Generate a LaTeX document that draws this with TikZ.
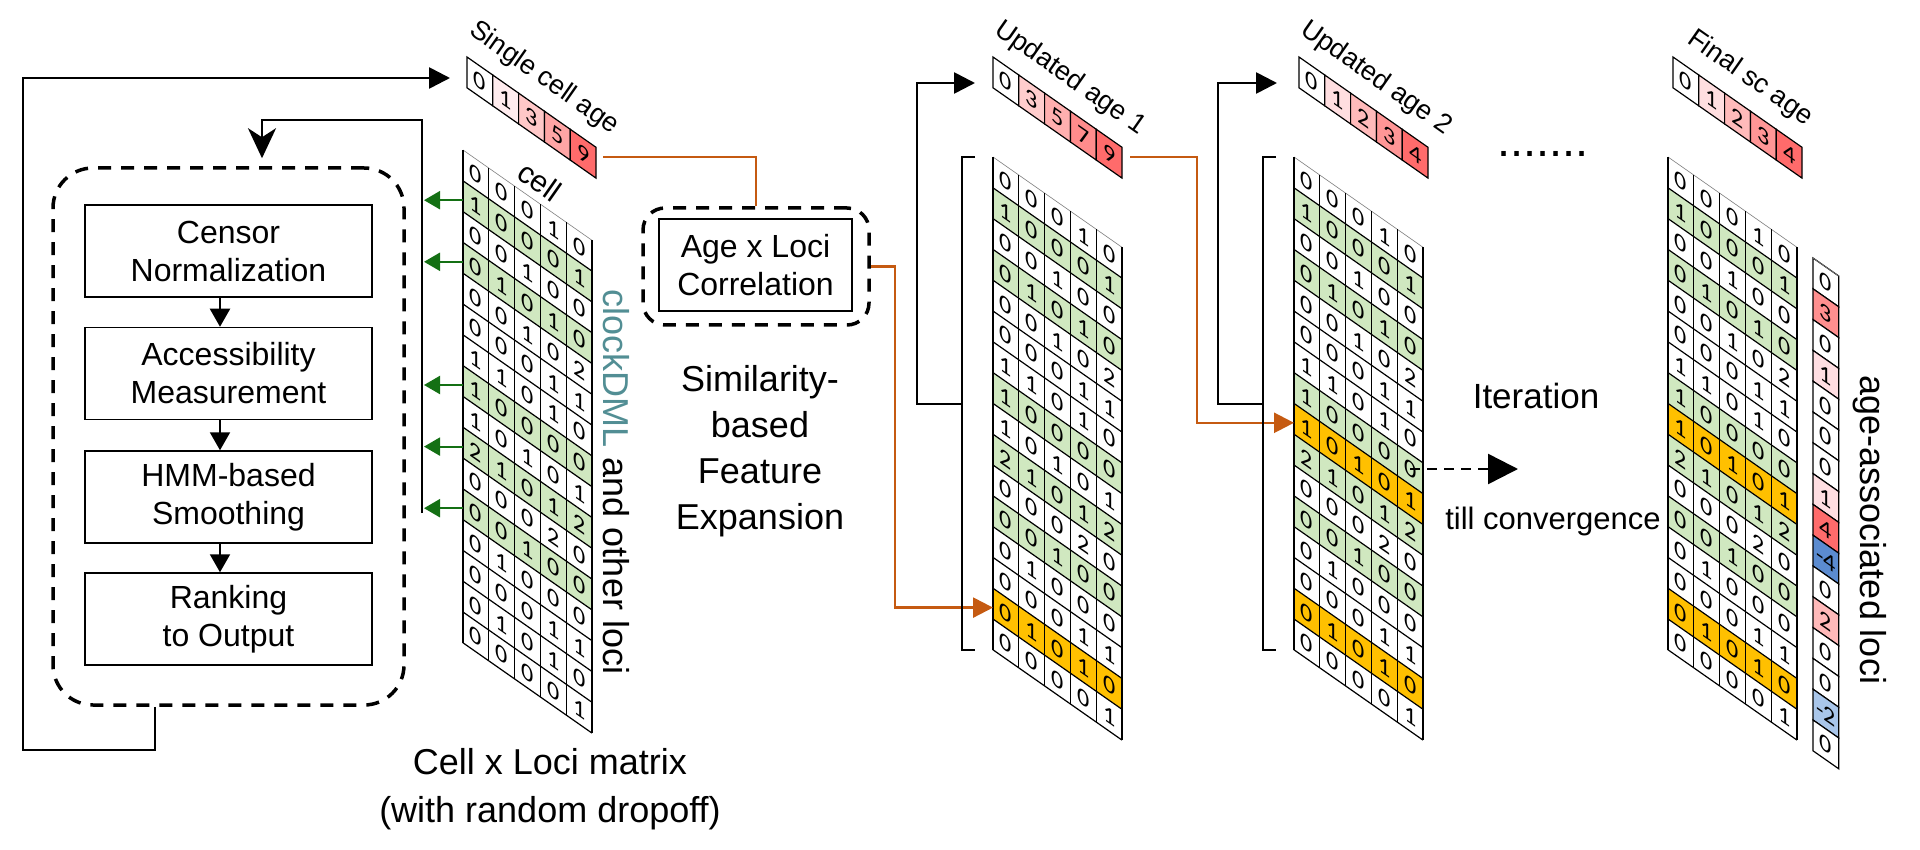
\documentclass[tikz,border=0pt]{standalone}
\usepackage{fontspec}
\setmainfont{Liberation Sans}
\newfontfamily\carlito{Carlito}
\usetikzlibrary{arrows.meta}
\definecolor{greenfill}{RGB}{208,232,192}
\definecolor{yellowfill}{RGB}{255,192,0}
\definecolor{orangeln}{RGB}{197,90,17}
\definecolor{darkgreen}{RGB}{20,112,20}
\definecolor{tealtext}{RGB}{82,142,148}
\definecolor{sA1}{RGB}{255,236,238}
\definecolor{sA3}{RGB}{255,200,200}
\definecolor{sA5}{RGB}{255,165,165}
\definecolor{sA9}{RGB}{255,107,107}
\definecolor{uA3}{RGB}{255,205,205}
\definecolor{uA5}{RGB}{255,175,175}
\definecolor{uA7}{RGB}{255,140,140}
\definecolor{uB1}{RGB}{255,222,224}
\definecolor{uB2}{RGB}{255,186,186}
\definecolor{uB3}{RGB}{255,150,150}
\definecolor{uB4}{RGB}{255,107,107}
\definecolor{cR3}{RGB}{255,143,143}
\definecolor{cR1}{RGB}{255,222,226}
\definecolor{cR4}{RGB}{255,107,107}
\definecolor{cB4}{RGB}{91,139,208}
\definecolor{cR2}{RGB}{255,185,185}
\definecolor{cB2}{RGB}{169,198,234}
\def\cw{25.8}
\def\rh{30.8}
\def\matdata{{0,0,0,1,0},{1,0,0,0,1},{0,0,1,0,0},{0,1,0,1,0},{0,0,1,0,2},{0,0,0,1,1},{1,1,0,1,0},{1,0,0,0,0},{1,0,1,0,1},{2,1,0,1,2},{0,0,0,2,0},{0,0,1,0,0},{0,1,0,0,0},{0,0,0,1,1},{0,1,0,1,0},{0,0,0,0,1}}
\tikzset{
  gridln/.style={line width=1.2pt, draw=black},
  thingrid/.style={line width=0.6pt, draw=gray},
  digit/.style={transform shape, inner sep=0pt, font=\carlito\fontsize{24}{24}\selectfont},
  procbox/.style={draw, line width=1.5pt, minimum width=287pt, minimum height=92pt, align=center, inner sep=0pt, font=\fontsize{32}{38}\selectfont},
  groupbox/.style={draw, line width=3.5pt, dash pattern=on 13pt off 10pt, rounded corners=40pt, inner sep=0pt},
  flow/.style={line width=2pt, -{Triangle[length=18pt,width=20pt]}},
  loopline/.style={line width=2.7pt},
  bigtip/.style={-{Triangle[length=21pt,width=21pt]}},
  greenarr/.style={draw=darkgreen, line width=2.2pt, -{Triangle[length=16pt,width=18pt]}},
  orangeline/.style={draw=orangeln, line width=2.5pt},
  veclabel/.style={rotate=-35, anchor=base, inner sep=0pt, font=\fontsize{27}{27}\selectfont},
  bigtext/.style={align=center, inner sep=0pt, font=\fontsize{36}{46}\selectfont},
}
\newcommand{\cellmatrix}[4]{%
  \begin{scope}[shift={(#1,-#2)}, yslant=-0.7]
    \foreach \r in {2,4,8,10,12}
      \fill[greenfill] (0,{-(\r-1)*\rh}) rectangle ({5*\cw},{-\r*\rh});
    \foreach \r in {#3}{%
      \ifnum\r>0
        \fill[yellowfill] (0,{-(\r-1)*\rh}) rectangle ({5*\cw},{-\r*\rh});
      \fi}
    \draw[thingrid] (0,0) -- ({5*\cw},0);
    \foreach \k in {1,...,16}
      \draw[gridln] (0,{-\k*\rh}) -- ({5*\cw},{-\k*\rh});
    \foreach \j in {0,...,5}
      \draw[gridln] ({\j*\cw},0) -- ({\j*\cw},{-16*\rh});
    \foreach \rowvals [count=\r] in \matdata {
      \foreach \v [count=\c] in \rowvals
        \node[digit] (#4-\r-\c) at ({(\c-0.5)*\cw},{-(\r-0.5)*\rh}) {\v};
    }
    \foreach \r in {1,...,16}
      \coordinate (#4-r\r) at (0,{-(\r-0.5)*\rh-4});
  \end{scope}
}
\newcommand{\agevector}[4]{%
  \begin{scope}[shift={(#1,-#2)}, yslant=-0.7]
    \foreach \v/\col [count=\c] in {#4}{%
      \filldraw[gridln, fill=\col] ({(\c-1)*\cw},0) rectangle ({\c*\cw},-\rh);
      \node[digit] (#3-\c) at ({(\c-0.5)*\cw},{-0.5*\rh}) {\v};
    }
  \end{scope}
}
\newcommand{\assocvector}[4]{%
  \begin{scope}[shift={(#1,-#2)}, yslant=-0.7]
    \foreach \v/\col [count=\c] in {#4}{%
      \filldraw[gridln, fill=\col] (0,{-(\c-1)*\rh}) rectangle (\cw,{-\c*\rh});
      \node[digit] (#3-\c) at ({0.5*\cw},{-(\c-0.5)*\rh}) {\v};
    }
    \draw[thingrid] (0,0) -- (\cw,0);
  \end{scope}
}
\begin{document}
\begin{tikzpicture}[x=1pt,y=1pt]
\useasboundingbox (0,0) rectangle (1920,-850);
\fill[white] (0,0) rectangle (1920,-850);

% ---------- left pipeline ----------
\node[groupbox, minimum width=351pt, minimum height=537pt] (grp) at (228.5,-436.5) {};
\node[procbox] (b1) at (228.5,-251) {Censor\\Normalization};
\node[procbox] (b2) at (228.5,-373.5) {Accessibility\\Measurement};
\node[procbox] (b3) at (228.5,-497) {HMM-based\\Smoothing};
\node[procbox] (b4) at (228.5,-619) {Ranking\\to Output};
\coordinate (ax) at (220,0);
\draw[flow] (b1.south -| ax) -- (b2.north -| ax);
\draw[flow] (b2.south -| ax) -- (b3.north -| ax);
\draw[flow] (b3.south -| ax) -- (b4.north -| ax);

% ---------- matrices ----------
\cellmatrix{463}{150}{0}{m1}
\cellmatrix{993}{157}{15}{m2}
\cellmatrix{1294}{157}{9,15}{m3}
\cellmatrix{1668}{157}{9,15}{m4}

% ---------- age vectors ----------
\agevector{467}{57}{v1}{0/white,1/sA1,3/sA3,5/sA5,9/sA9}
\agevector{993}{57}{v2}{0/white,3/uA3,5/uA5,7/uA7,9/sA9}
\agevector{1299}{57}{v3}{0/white,1/uB1,2/uB2,3/uB3,4/uB4}
\agevector{1673}{57}{v4}{0/white,1/uB1,2/uB2,3/uB3,4/uB4}
\assocvector{1813}{258}{av}{0/white,3/cR3,0/white,1/cR1,0/white,0/white,0/white,1/cR1,4/cR4,-4/cB4,0/white,2/cR2,0/white,0/white,-2/cB2,0/white}

% ---------- labels ----------
\node[veclabel] (lab1) at (540,-84) {Single cell age};
\node[veclabel] (lab2) at (1066,-84) {Updated age 1};
\node[veclabel] (lab3) at (1372,-84) {Updated age 2};
\node[veclabel] (lab4) at (1746,-84) {Final sc age};
\node[veclabel, font=\fontsize{30}{30}\selectfont] (labcell) at (534,-190) {cell};
\node[rotate=-90, inner sep=0pt, font=\fontsize{36}{36}\selectfont] (clocklab) at (616,-482) {\textcolor{tealtext}{clockDML} and other loci};
\node[rotate=-90, inner sep=0pt, font=\fontsize{36}{36}\selectfont] (assoclab) at (1870,-530) {age-associated loci};
\node[bigtext] (simtxt) at (760,-451) {Similarity-\\based\\Feature\\Expansion};
\node[bigtext, font=\fontsize{36}{48}\selectfont] (celltxt) at (550,-789) {Cell x Loci matrix\\(with random dropoff)};
\node[bigtext, font=\fontsize{35}{35}\selectfont] (itertxt) at (1536,-396) {Iteration};
\node[bigtext, font=\fontsize{31}{31}\selectfont] (convtxt) at (1553,-521) {till convergence};
\node[anchor=base, inner sep=0pt, font=\fontsize{47}{47}\selectfont] (dots) at (1543,-157) {.......};

% ---------- correlation box ----------
\node[groupbox, rounded corners=22pt, minimum width=226pt, minimum height=117pt] (corr) at (756,-266.5) {};
\node[procbox, minimum width=193pt, minimum height=92pt] (corrin) at (755.5,-265) {Age x Loci\\Correlation};

% ---------- left loops ----------
\coordinate (olA) at (155,-750);
\coordinate (olB) at (23,-750);
\coordinate (olC) at (23,-78);
\coordinate (v1in) at (450,-78);
\draw[loopline, bigtip] (grp.south -| olA) -- (olA) -- (olB) -- (olC) -- (v1in);
\coordinate (ilA) at (422,-513);
\coordinate (ilB) at (422,-120);
\coordinate (ilC) at (262,-120);
\draw[line width=2.5pt, -{Stealth[length=30pt,width=28pt,inset=9pt]}, shorten >=8pt] (ilA) -- (ilB) -- (ilC) -- (grp.north -| ilC);
\foreach \r in {2,4,8,10,12}
  \draw[greenarr, shorten >=2pt] (m1-r\r) -- (m1-r\r -| ilA);

% ---------- orange connectors ----------
\coordinate (v1out) at (603,-157);
\draw[orangeline] (v1out) -| (corr.north);
\coordinate (o2x) at (895,0);
\draw[orangeline, -{Triangle[length=20pt,width=20pt]}] (corr.east) -- (corr.east -| o2x) |- (m2-r15);
\coordinate (v2out) at (1130,-157);
\coordinate (o3x) at (1197,0);
\draw[orangeline, -{Triangle[length=20pt,width=20pt]}] (v2out) -- (v2out -| o3x) |- (m3-r9);

% ---------- brackets and loops ----------
\coordinate (br2t) at (975,-157);
\coordinate (br2b) at (975,-650);
\coordinate (br2x) at (962,0);
\draw[loopline] (br2t) -- (br2t -| br2x) -- (br2b -| br2x) -- (br2b);
\coordinate (br2m) at (962,-404);
\coordinate (lp2x) at (917,0);
\coordinate (v2in) at (975,-83);
\draw[loopline, bigtip] (br2m) -- (br2m -| lp2x) |- (v2in);

\coordinate (br3t) at (1276,-157);
\coordinate (br3b) at (1276,-650);
\coordinate (br3x) at (1263,0);
\draw[loopline] (br3t) -- (br3t -| br3x) -- (br3b -| br3x) -- (br3b);
\coordinate (br3m) at (1263,-404);
\coordinate (lp3x) at (1218,0);
\coordinate (v3in) at (1277,-83);
\draw[loopline, bigtip] (br3m) -- (br3m -| lp3x) |- (v3in);

% ---------- iteration arrow ----------
\coordinate (itS) at (1410,-469);
\coordinate (itE) at (1518,-469);
\draw[line width=2.5pt, dash pattern=on 10pt off 7pt, -{Triangle[length=30pt,width=30pt]}] (itS) -- (itE);
\end{tikzpicture}
\end{document}
